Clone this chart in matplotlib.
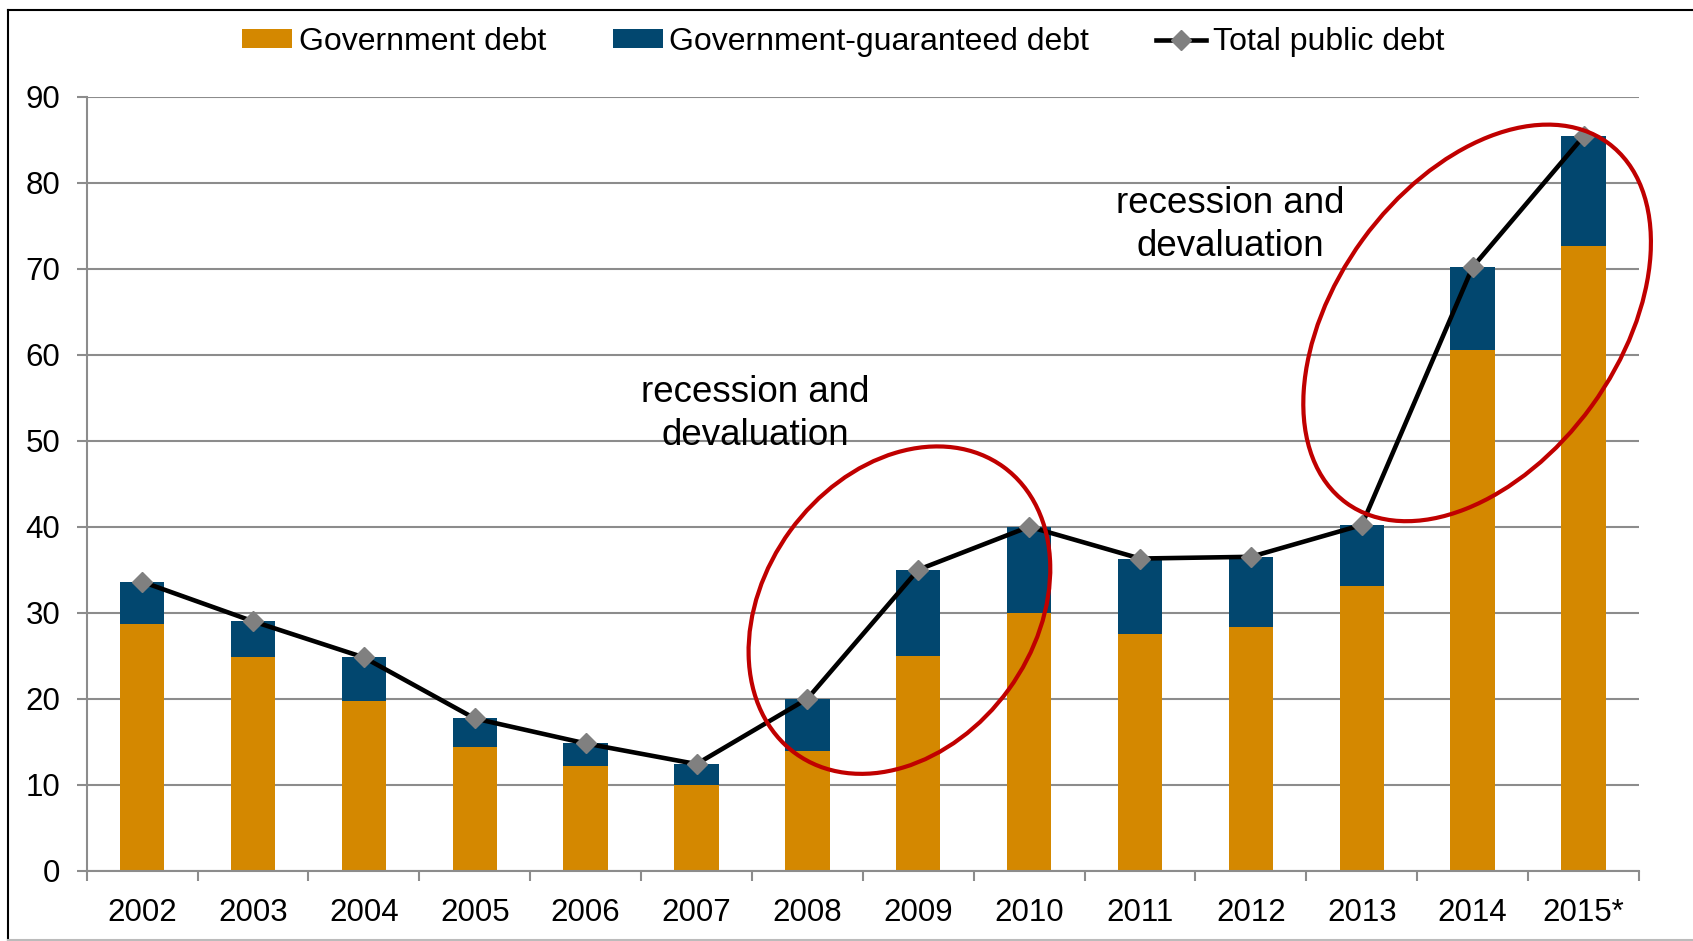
import numpy as np
import matplotlib.pyplot as plt
from matplotlib.patches import Ellipse
from matplotlib.lines import Line2D
from matplotlib.transforms import IdentityTransform

plt.rcParams['font.family'] = ['Liberation Sans', 'DejaVu Sans']

years = ['2002', '2003', '2004', '2005', '2006', '2007', '2008',
         '2009', '2010', '2011', '2012', '2013', '2014', '2015*']
gov_debt = [28.7, 24.8, 19.7, 14.4, 12.2, 10.0, 13.9,
            25.0, 30.0, 27.5, 28.3, 33.1, 60.5, 72.6]
guaranteed_debt = [4.9, 4.2, 5.1, 3.3, 2.6, 2.4, 6.1,
                   10.0, 10.0, 8.8, 8.2, 7.1, 9.7, 12.8]
total_debt = [33.6, 29.0, 24.8, 17.7, 14.8, 12.4, 20.0,
              35.0, 40.0, 36.3, 36.5, 40.2, 70.2, 85.4]
y_ticks = [0, 10, 20, 30, 40, 50, 60, 70, 80, 90]

orange = '#D48800'
navy = '#02476F'
grid_gray = '#8C8C8C'

fig = plt.figure(figsize=(16.93, 9.41), dpi=100)
ax = fig.add_axes([0.0512, 0.0747, 0.9169, 0.8225])

x = np.arange(len(years))
b1 = ax.bar(x, gov_debt, 0.4, color=orange, label='Government debt', zorder=2)
b2 = ax.bar(x, guaranteed_debt, 0.4, bottom=gov_debt, color=navy,
            label='Government-guaranteed debt', zorder=2)
l1, = ax.plot(x, total_debt, color='black', lw=3.3, marker='D', ms=10,
              mfc='#808080', mec='#808080', label='Total public debt', zorder=3)

ax.set_xlim(-0.5, len(years) - 0.5)
ax.set_ylim(0, 90)
ax.set_yticks(y_ticks)
ax.tick_params(axis='y', length=7, width=1.5, color=grid_gray, pad=12,
               labelsize=22.5)
ax.set_xticks(np.arange(len(years) + 1) - 0.5)
ax.set_xticklabels([])
ax.set_xticks(x, minor=True)
ax.set_xticklabels(years, minor=True)
ax.tick_params(axis='x', which='major', length=7, width=1.5, color=grid_gray)
ax.tick_params(axis='x', which='minor', length=0, pad=20, labelsize=22.5)

ax.grid(axis='y', color=grid_gray, lw=1.5, zorder=0)
ax.set_axisbelow(True)
for s in ['top', 'right']:
    ax.spines[s].set_visible(False)
for s in ['left', 'bottom']:
    ax.spines[s].set_color(grid_gray)
    ax.spines[s].set_linewidth(1.5)

ax.text(5.53, 53.1, 'recession and\ndevaluation', fontsize=26.5,
        ha='center', va='center', multialignment='center', linespacing=1.32)
ax.text(9.81, 75.1, 'recession and\ndevaluation', fontsize=26.5,
        ha='center', va='center', multialignment='center', linespacing=1.32)

# red ellipses, sized in pixels
fig.canvas.draw()
for cx, cy, w, h, ang in [(6.83, 30.3, 354, 270, 54), (12.04, 63.7, 445, 283, 54)]:
    px, py = ax.transData.transform((cx, cy))
    e = Ellipse((px, py), w, h, angle=ang, fill=False, ec='#C00000', lw=3,
                transform=IdentityTransform(), zorder=5)
    fig.add_artist(e)

fig.legend([b1, b2, l1], ['Government debt', 'Government-guaranteed debt',
                          'Total public debt'],
           loc='center', bbox_to_anchor=(0.498, 1 - 42 / 941), ncol=3,
           frameon=False, fontsize=23, handlelength=1.57, handleheight=0.55,
           handletextpad=0.2, columnspacing=2.1)

# outer frame
fig.add_artist(Line2D([0.005, 0.005], [0, 0.9894], color='black', lw=1.5))
fig.add_artist(Line2D([0.005, 1], [0.9894, 0.9894], color='black', lw=1.5))
fig.add_artist(Line2D([0.005, 1], [0.001, 0.001], color='#BBBBBB', lw=1.5))

plt.savefig('out.png', dpi=100)
